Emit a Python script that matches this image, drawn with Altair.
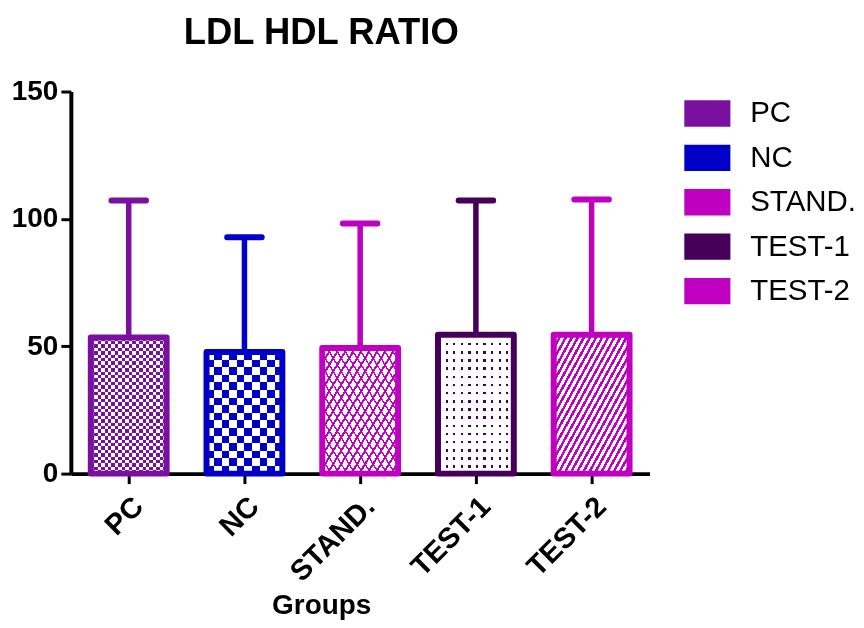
import altair as alt
import pandas as pd

# ---- data ----
groups = ["PC", "NC", "STAND.", "TEST-1", "TEST-2"]
means = [53.4, 47.7, 49.3, 54.5, 54.5]
sds = [53.8, 45.1, 48.9, 52.7, 53.1]
colors = ["#7A10A0", "#0000C6", "#C000C0", "#46005A", "#C000C0"]
y_ticks = [0, 50, 100, 150]

# ---- layout / style ----
FONT = "Liberation Sans, Arial, Helvetica, sans-serif"
PLOT_W, PLOT_H, Y_MAX = 580, 383, 150
STEP = PLOT_W / len(groups)
BAR_W = 76
PAD_IN = 1 - BAR_W / STEP
WHITE = "#ffffff"
BLACK = "#000000"
CLEAR = "rgba(255,255,255,0)"

df = pd.DataFrame({"group": groups, "mean": means, "sd": sds})
df["upper"] = df["mean"] + df["sd"]

x_axis = alt.Axis(labelAngle=-45, labelFont=FONT, labelFontSize=29, labelFontWeight="bold",
                  labelColor="black", tickSize=10, tickWidth=3, tickColor="black",
                  domainColor="black", domainWidth=4, labelPadding=8,
                  title="Groups", titleFont=FONT, titleFontSize=28, titleFontWeight="bold",
                  titleColor="black", titleX=251, titlePadding=5)
y_axis = alt.Axis(values=y_ticks, labelFont=FONT, labelFontSize=28, labelFontWeight="bold",
                  labelColor="black", tickSize=10, tickWidth=3, tickColor="black",
                  domainColor="black", domainWidth=4, labelPadding=3, grid=False, title=None)

x_enc = alt.X("group:N", sort=groups,
              scale=alt.Scale(domain=groups, paddingInner=PAD_IN, paddingOuter=PAD_IN / 2),
              axis=x_axis)
y_scale = alt.Scale(domain=[0, Y_MAX], nice=False)


def grad(direction, period, frac, on, off, w, h):
    """Hard-stop stripe gradient in the bar's bounding-box units."""
    if direction == "x":
        length = w
        coords = dict(x1=0, y1=0, x2=1, y2=0)
    elif direction == "y":
        length = h
        coords = dict(x1=0, y1=0, x2=0, y2=1)
    elif direction == "/":
        length = 2 * w
        coords = dict(x1=0, y1=0, x2=1, y2=1)
    else:  # "\"
        length = 2 * w
        coords = dict(x1=0, y1=1, x2=1, y2=0)
    n = max(1, round(length / period))
    stops = []
    for i in range(n):
        a, b, c = i / n, (i + frac) / n, (i + 1) / n
        stops += [alt.GradientStop(color=on, offset=round(a, 5)),
                  alt.GradientStop(color=on, offset=round(b, 5)),
                  alt.GradientStop(color=off, offset=round(b, 5)),
                  alt.GradientStop(color=off, offset=round(c, 5))]
    return alt.Gradient(gradient="linear", stops=stops, **coords)


def bar_layer(g, fill, blend=None):
    kw = dict(fill=fill)
    if blend:
        kw["blend"] = blend
    return alt.Chart().mark_bar(**kw).encode(
        x=x_enc, y=alt.Y("mean:Q", scale=y_scale, axis=y_axis)
    ).transform_filter(alt.datum.group == g)


layers = []
for g, m, col in zip(groups, means, colors):
    h = m * PLOT_H / Y_MAX
    w = BAR_W
    if g in ("PC", "NC"):
        cell = 3.4 if g == "PC" else 7.2
        layers.append(bar_layer(g, grad("x", 2 * cell, 0.5, BLACK, WHITE, w, h)))
        layers.append(bar_layer(g, grad("y", 2 * cell, 0.5, WHITE, CLEAR, w, h), "difference"))
        layers.append(bar_layer(g, col, "screen"))
    elif g == "TEST-1":
        layers.append(bar_layer(g, grad("x", 8, 0.3, BLACK, WHITE, w, h)))
        layers.append(bar_layer(g, grad("y", 8, 0.3, BLACK, WHITE, w, h), "lighten"))
        layers.append(bar_layer(g, col, "screen"))
    elif g == "STAND.":
        layers.append(bar_layer(g, grad("/", 8, 0.28, col, WHITE, w, h)))
        layers.append(bar_layer(g, grad("\\", 8, 0.2, col, CLEAR, w, h)))
    else:
        layers.append(bar_layer(g, grad("/", 6, 0.45, col, WHITE, w, h)))

color_scale = alt.Scale(domain=groups, range=colors)
legend = alt.Legend(title=None, symbolType="M-1.05,-0.6H1.05V0.6H-1.05Z", symbolSize=1936,
                    symbolStrokeWidth=0, symbolOpacity=1, labelFont=FONT, labelFontSize=29.5,
                    labelColor="black", rowPadding=7.5, labelOffset=21, offset=36,
                    padding=0, orient="right")

legend_src = alt.Chart().mark_bar(opacity=0).encode(
    x=x_enc, y=alt.Y("mean:Q", scale=y_scale, axis=y_axis),
    fill=alt.Fill("group:N", scale=color_scale, legend=legend, sort=groups),
)
outline = alt.Chart().mark_bar(filled=False, strokeWidth=6, strokeJoin="round").encode(
    x=x_enc, y=alt.Y("mean:Q", scale=y_scale, axis=y_axis),
    stroke=alt.Stroke("group:N", scale=color_scale, legend=None),
)
stem = alt.Chart().mark_rule(strokeWidth=5.5).encode(
    x=x_enc, y=alt.Y("mean:Q", scale=y_scale, axis=y_axis), y2="upper:Q",
    stroke=alt.Stroke("group:N", scale=color_scale, legend=None),
)
cap = alt.Chart().mark_tick(filled=False, size=35, thickness=0.5, strokeWidth=5.5,
                            strokeJoin="round", opacity=1).encode(
    x=x_enc, y=alt.Y("upper:Q", scale=y_scale, axis=y_axis),
    stroke=alt.Stroke("group:N", scale=color_scale, legend=None),
)

chart = alt.layer(legend_src, *layers, stem, cap, outline, data=df).properties(
    width=PLOT_W, height=PLOT_H,
    title=alt.TitleParams("LDL HDL RATIO", font=FONT, fontSize=36.5, fontWeight="bold",
                          color="black", frame="group", anchor="middle", dx=-39, offset=26),
    padding={"left": 3, "top": 6, "right": 0, "bottom": 0},
).configure_view(strokeWidth=0)

chart.save("out.html", embed_options={"renderer": "svg", "actions": False})
